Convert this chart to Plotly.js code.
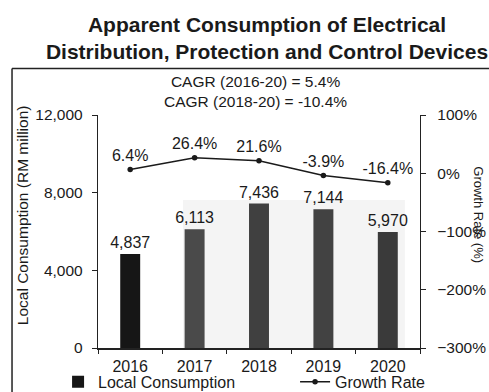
<!DOCTYPE html>
<html>
<head>
<meta charset="utf-8">
<script src="https://cdn.plot.ly/plotly-3.0.1.min.js"></script>
<style>html,body{margin:0;padding:0;background:#fff;}#chart{width:489px;height:392px;}</style>
</head>
<body>
<div id="chart"></div>
<script>
const years = ["2016", "2017", "2018", "2019", "2020"];
const consumption = [4837, 6113, 7436, 7144, 5970];
const consumptionLabels = ["4,837", "6,113", "7,436", "7,144", "5,970"];
const growthRate = [6.4, 26.4, 21.6, -3.9, -16.4];
const growthLabels = ["6.4%", "26.4%", "21.6%", "-3.9%", "-16.4%"];
const barColors = ["#161616", "#4a4a4a", "#404040", "#424242", "#3a3a3a"];

const FF = "Liberation Sans, Arial, sans-serif";
const INK = "#1a1a1a";

const traces = [
  {
    type: "bar", x: years, y: consumption, name: "Local Consumption", legend: "legend",
    marker: {color: barColors, line: {width: 0}},
    text: consumptionLabels, textposition: "outside", cliponaxis: false, constraintext: "none",
    textfont: {size: 16, color: INK}, hoverinfo: "skip"
  },
  {
    type: "scatter", mode: "lines+markers+text", x: years, y: growthRate, yaxis: "y2",
    name: "Growth Rate", legend: "legend2", line: {color: INK, width: 1.5},
    marker: {color: INK, size: 5.5},
    text: growthLabels, textposition: "top center", cliponaxis: false,
    textfont: {size: 16, color: INK}
  }
];

const legendBase = {
  orientation: "h", xanchor: "left", y: -0.072, yanchor: "top",
  font: {size: 16, color: INK}, bgcolor: "rgba(0,0,0,0)", itemwidth: 30
};

const layout = {
  width: 489, height: 392,
  margin: {l: 98, r: 69, t: 115, b: 44, autoexpand: false},
  paper_bgcolor: "#fff", plot_bgcolor: "rgba(0,0,0,0)",
  font: {family: FF, color: INK, size: 15},
  showlegend: true,
  title: {
    text: "Apparent Consumption of Electrical<br>Distribution, Protection and Control Devices",
    font: {size: 21, color: INK, family: FF, weight: "bold"},
    x: 0.546, xref: "container", xanchor: "center", y: 0.918, yref: "container", yanchor: "top"
  },
  bargap: 0.69,
  xaxis: {
    type: "category", showline: true, linecolor: "#222", linewidth: 1.5,
    ticks: "outside", tickson: "boundaries", ticklen: 4, tickcolor: "#222",
    ticklabelstandoff: 3,
    showgrid: false, zeroline: false, tickfont: {size: 16}
  },
  yaxis: {
    range: [0, 12000], tickvals: [0, 4000, 8000, 12000], ticktext: ["0", "4,000", "8,000", "12,000"],
    showline: true, linecolor: "#222", linewidth: 1.2, ticks: "outside", ticklen: 5, tickcolor: "#222",
    ticklabelstandoff: 6,
    showgrid: false, zeroline: false, tickfont: {size: 15.5}
  },
  yaxis2: {
    overlaying: "y", side: "right", range: [-300, 100], dtick: 100, ticksuffix: "%",
    showline: true, linecolor: "#222", linewidth: 1.2, ticks: "outside", ticklen: 5, tickcolor: "#222",
    ticklabelstandoff: 8,
    showgrid: false, zeroline: false, tickfont: {size: 15.5}
  },
  legend: Object.assign({}, legendBase, {x: -0.124}),
  legend2: Object.assign({}, legendBase, {x: 0.612}),
  annotations: [
    {text: "CAGR (2016-20) = 5.4%<br>CAGR (2018-20) = -10.4%", xref: "paper", yref: "paper",
     x: 0.49, y: 1.099, xanchor: "center", yanchor: "middle", showarrow: false,
     font: {size: 15.5, color: INK}},
    {text: "Local Consumption (RM million)", xref: "paper", yref: "paper", x: -0.236, y: 0.57,
     xanchor: "center", yanchor: "middle", textangle: -90, showarrow: false, font: {size: 15.5, color: INK}},
    {text: "Growth Rate (%)", xref: "paper", yref: "paper", x: 1.183, y: 0.57,
     xanchor: "center", yanchor: "middle", textangle: 90, showarrow: false, borderpad: 0,
     font: {size: 13, color: INK}}
  ],
  shapes: [
    {type: "rect", xref: "paper", yref: "paper", x0: 0.264, x1: 0.953, y0: 0, y1: 0.635,
     fillcolor: "#f4f4f4", line: {width: 0}, layer: "below"},
    {type: "line", xref: "paper", yref: "paper", x0: -0.267, x1: 1.3, y0: 1.2, y1: 1.2, line: {color: "#222", width: 1.5}},
    {type: "line", xref: "paper", yref: "paper", x0: -0.267, x1: -0.267, y0: 1.2, y1: -0.3, line: {color: "#222", width: 1.5}}
  ]
};

Plotly.newPlot("chart", traces, layout, {displayModeBar: false, staticPlot: true});
</script>
</body>
</html>
